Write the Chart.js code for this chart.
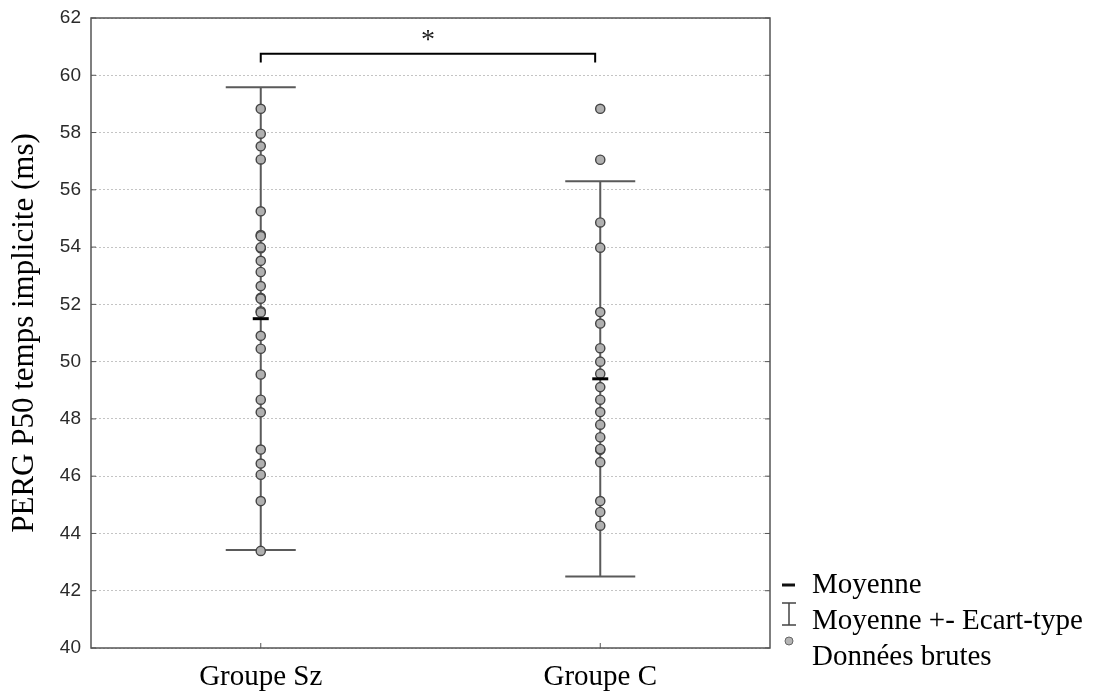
<!DOCTYPE html>
<html>
<head>
<meta charset="utf-8">
<script src="https://cdn.jsdelivr.net/npm/chart.js@4.4.1/dist/chart.umd.min.js"></script>
<style>
html,body{margin:0;padding:0;background:#fff;}
#wrap{width:1099px;height:698px;position:relative;}
</style>
</head>
<body>
<div id="wrap"><canvas id="c" width="1099" height="698"></canvas></div>
<script>
const categories = ['Groupe Sz', 'Groupe C'];
const rawSz = [58.83, 57.96, 57.52, 57.06, 55.25, 54.42, 54.38, 53.96, 53.99, 53.52, 53.13, 52.64, 52.23, 52.2, 51.76, 51.72, 50.9, 50.45, 49.55, 48.67, 48.23, 46.93, 46.44, 46.05, 45.13, 43.39];
const rawC = [58.83, 57.05, 54.86, 53.98, 51.73, 51.33, 50.47, 50.0, 49.58, 49.11, 48.67, 48.24, 47.8, 47.36, 46.92, 46.95, 46.49, 45.13, 44.75, 44.27];
const means = [51.5, 49.4];
const sds = [8.08, 6.9];
const yTicks = [40, 42, 44, 46, 48, 50, 52, 54, 56, 58, 60, 62];
const yTitle = 'PERG P50 temps implicite (ms)';
const legendLabels = ['Moyenne', 'Moyenne +- Ecart-type', 'Données brutes'];
const significance = '*';

const serif = '"Liberation Serif", "Times New Roman", serif';

const overlay = {
  id: 'overlay',
  beforeDatasetsDraw(chart) {
    const ctx = chart.ctx, xs = chart.scales.x, ys = chart.scales.y;
    ctx.save();
    ctx.strokeStyle = '#5a5a5a';
    ctx.lineWidth = 2;
    means.forEach((m, i) => {
      const x = xs.getPixelForValue(i + 1);
      const top = ys.getPixelForValue(m + sds[i]);
      const bot = ys.getPixelForValue(m - sds[i]);
      const cw = 35;
      ctx.beginPath();
      ctx.moveTo(x, top); ctx.lineTo(x, bot);
      ctx.moveTo(x - cw, top); ctx.lineTo(x + cw, top);
      ctx.moveTo(x - cw, bot); ctx.lineTo(x + cw, bot);
      ctx.stroke();
    });
    ctx.restore();
  },
  afterDatasetsDraw(chart) {
    const ctx = chart.ctx, xs = chart.scales.x, ys = chart.scales.y, a = chart.chartArea;
    ctx.save();
    // means
    ctx.strokeStyle = '#000';
    ctx.lineWidth = 3;
    means.forEach((m, i) => {
      const x = xs.getPixelForValue(i + 1);
      const y = ys.getPixelForValue(m);
      ctx.beginPath(); ctx.moveTo(x - 8, y); ctx.lineTo(x + 8, y); ctx.stroke();
    });
    // frame
    ctx.strokeStyle = '#555';
    ctx.lineWidth = 1.5;
    ctx.strokeRect(a.left, a.top, a.right - a.left, a.bottom - a.top);
    // inner ticks
    ctx.lineWidth = 1;
    categories.forEach((c, i) => {
      const x = xs.getPixelForValue(i + 1);
      ctx.beginPath(); ctx.moveTo(x, a.bottom); ctx.lineTo(x, a.bottom - 5); ctx.stroke();
    });
    yTicks.forEach(v => {
      const y = ys.getPixelForValue(v);
      ctx.beginPath();
      ctx.moveTo(a.left, y); ctx.lineTo(a.left + 5, y);
      ctx.moveTo(a.right, y); ctx.lineTo(a.right - 5, y);
      ctx.stroke();
    });
    // significance bracket
    const bx1 = xs.getPixelForValue(1), bx2 = xs.getPixelForValue(1.985);
    const by = ys.getPixelForValue(60.75), byt = ys.getPixelForValue(60.45);
    ctx.strokeStyle = '#000';
    ctx.lineWidth = 2;
    ctx.beginPath();
    ctx.moveTo(bx1, byt); ctx.lineTo(bx1, by); ctx.lineTo(bx2, by); ctx.lineTo(bx2, byt);
    ctx.stroke();
    ctx.fillStyle = '#222';
    ctx.font = '28px ' + serif;
    ctx.textAlign = 'center';
    ctx.textBaseline = 'alphabetic';
    ctx.fillText(significance, (bx1 + bx2) / 2, ys.getPixelForValue(60.96));
    // legend
    const lx = 788, tx = 812;
    const ly = [585, 621, 657];
    ctx.font = '29px ' + serif;
    ctx.fillStyle = '#000';
    ctx.textAlign = 'left';
    ctx.textBaseline = 'middle';
    legendLabels.forEach((t, i) => ctx.fillText(t, tx, ly[i]));
    ctx.strokeStyle = '#111';
    ctx.lineWidth = 3;
    ctx.beginPath(); ctx.moveTo(lx - 6, 585); ctx.lineTo(lx + 7, 585); ctx.stroke();
    ctx.strokeStyle = '#444';
    ctx.lineWidth = 1.5;
    ctx.beginPath();
    ctx.moveTo(lx - 6, 603); ctx.lineTo(lx + 8, 603);
    ctx.moveTo(lx + 1, 603); ctx.lineTo(lx + 1, 625);
    ctx.moveTo(lx - 6, 625); ctx.lineTo(lx + 8, 625);
    ctx.stroke();
    ctx.fillStyle = '#b4b4b4';
    ctx.strokeStyle = '#666';
    ctx.lineWidth = 1;
    ctx.beginPath(); ctx.arc(lx + 1, 641, 4, 0, Math.PI * 2); ctx.fill(); ctx.stroke();
    ctx.restore();
  }
};

const pointStyle = {
  showLine: false,
  pointRadius: 4.6,
  pointHoverRadius: 4.6,
  pointBackgroundColor: '#b0b0b0',
  pointBorderColor: '#444',
  pointBorderWidth: 1.4
};

new Chart(document.getElementById('c'), {
  type: 'scatter',
  data: {
    datasets: [
      Object.assign({ label: categories[0], data: rawSz.map(v => ({ x: 1, y: v })) }, pointStyle),
      Object.assign({ label: categories[1], data: rawC.map(v => ({ x: 2, y: v })) }, pointStyle)
    ]
  },
  options: {
    responsive: false,
    animation: false,
    events: [],
    layout: { padding: { top: 18, right: 329, left: 0, bottom: 0 } },
    plugins: { legend: { display: false }, tooltip: { enabled: false } },
    scales: {
      x: {
        type: 'linear',
        min: 0.5, max: 2.5,
        afterBuildTicks(s) { s.ticks = categories.map((c, i) => ({ value: i + 1 })); },
        afterFit(s) { s.height = 50; s.paddingLeft = 0; s.paddingRight = 0; },
        ticks: {
          callback: v => categories[v - 1] || '',
          font: { family: serif, size: 29 },
          color: '#000',
          padding: 4,
          maxRotation: 0
        },
        grid: { display: false },
        border: { display: false }
      },
      y: {
        min: 40, max: 62,
        afterBuildTicks(s) { s.ticks = yTicks.map(v => ({ value: v })); },
        afterFit(s) { s.width = 91; s.paddingTop = 0; s.paddingBottom = 0; },
        ticks: {
          font: { family: '"Liberation Sans", Arial, sans-serif', size: 19 },
          color: '#2a2a2a',
          padding: 10
        },
        grid: {
          color: '#c4c4c4',
          lineWidth: 1,
          drawTicks: false
        },
        border: { display: false, dash: [2, 2] },
        title: {
          display: true,
          text: yTitle,
          font: { family: serif, size: 31 },
          color: '#000',
          padding: { top: 6, bottom: 0 }
        }
      }
    }
  },
  plugins: [overlay]
});
</script>
</body>
</html>
